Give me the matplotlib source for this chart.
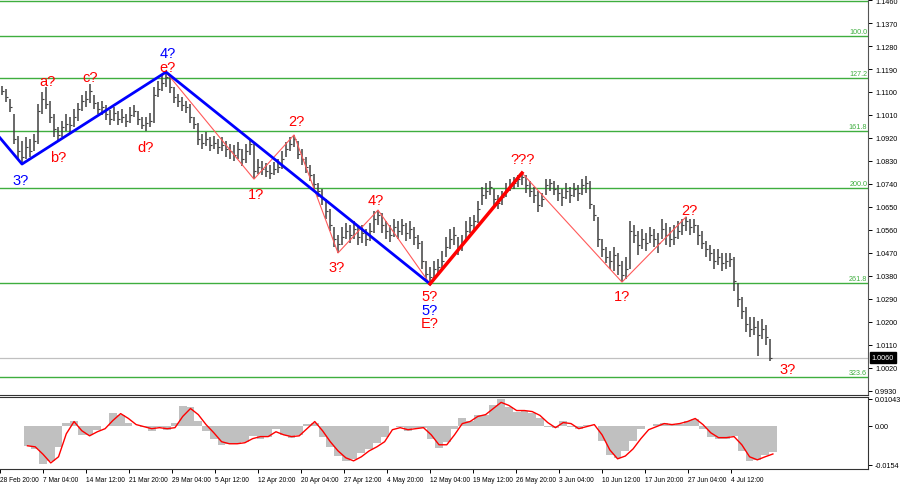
import numpy as np
import matplotlib
matplotlib.use("Agg")
import matplotlib.pyplot as plt
from matplotlib.collections import LineCollection

plt.rcParams["font.family"] = ["Liberation Sans", "DejaVu Sans"]

# EURUSD H4, one bar every ~3 original bars
closes = [1.1104, 1.1080, 1.1041, 1.0916, 1.0869, 1.0846, 1.0885, 1.0869, 1.0908, 1.1026,
          1.1073, 1.1053, 1.1002, 1.0955, 1.0932, 1.0963, 1.0975, 1.0971, 1.1002, 1.1033,
          1.1065, 1.1073, 1.1104, 1.1057, 1.1033, 1.1041, 1.1014, 1.0994, 1.1018, 1.0994,
          1.1002, 1.0986, 1.1010, 1.1026, 1.0994, 1.0971, 1.0979, 1.0986, 1.1088, 1.1112,
          1.1135, 1.1159, 1.1120, 1.1080, 1.1065, 1.1049, 1.1041, 1.1002, 1.0975, 1.0916,
          1.0900, 1.0916, 1.0893, 1.0900, 1.0885, 1.0893, 1.0877, 1.0869, 1.0853, 1.0877,
          1.0838, 1.0869, 1.0896, 1.0791, 1.0806, 1.0799, 1.0791, 1.0783, 1.0799, 1.0806,
          1.0838, 1.0877, 1.0896, 1.0916, 1.0857, 1.0838, 1.0806, 1.0775, 1.0740, 1.0713,
          1.0681, 1.0634, 1.0579, 1.0525, 1.0505, 1.0532, 1.0556, 1.0540, 1.0564, 1.0532,
          1.0548, 1.0525, 1.0556, 1.0603, 1.0619, 1.0579, 1.0556, 1.0540, 1.0572, 1.0556,
          1.0579, 1.0548, 1.0564, 1.0532, 1.0509, 1.0439, 1.0388, 1.0376, 1.0407, 1.0415,
          1.0439, 1.0493, 1.0525, 1.0540, 1.0493, 1.0509, 1.0556, 1.0579, 1.0595, 1.0642,
          1.0697, 1.0713, 1.0728, 1.0681, 1.0666, 1.0689, 1.0720, 1.0736, 1.0744, 1.0759,
          1.0767, 1.0736, 1.0713, 1.0697, 1.0658, 1.0681, 1.0736, 1.0744, 1.0720, 1.0705,
          1.0689, 1.0713, 1.0697, 1.0720, 1.0705, 1.0736, 1.0744, 1.0662, 1.0619, 1.0525,
          1.0485, 1.0454, 1.0439, 1.0462, 1.0423, 1.0384, 1.0407, 1.0556, 1.0540, 1.0501,
          1.0525, 1.0509, 1.0540, 1.0525, 1.0509, 1.0564, 1.0540, 1.0525, 1.0532, 1.0556,
          1.0579, 1.0595, 1.0572, 1.0579, 1.0540, 1.0509, 1.0485, 1.0470, 1.0439, 1.0454,
          1.0431, 1.0439, 1.0446, 1.0360, 1.0290, 1.0243, 1.0192, 1.0172, 1.0180, 1.0149,
          1.0172, 1.0141, 1.0060]

highs = [1.1123, 1.1112, 1.1073, 1.1014, 1.0928, 1.0908, 1.0924, 1.0916, 1.0936, 1.1053,
         1.1100, 1.1120, 1.1065, 1.1014, 1.0963, 1.0986, 1.1014, 1.1002, 1.1033, 1.1057,
         1.1088, 1.1104, 1.1131, 1.1088, 1.1061, 1.1065, 1.1049, 1.1030, 1.1041, 1.1026,
         1.1033, 1.1014, 1.1041, 1.1049, 1.1026, 1.1002, 1.1002, 1.1018, 1.1120, 1.1143,
         1.1167, 1.1178, 1.1167, 1.1120, 1.1092, 1.1080, 1.1065, 1.1053, 1.1002, 1.0979,
         1.0936, 1.0943, 1.0924, 1.0928, 1.0916, 1.0924, 1.0908, 1.0896, 1.0893, 1.0904,
         1.0877, 1.0896, 1.0916, 1.0896, 1.0838, 1.0830, 1.0822, 1.0814, 1.0826, 1.0838,
         1.0869, 1.0904, 1.0924, 1.0932, 1.0908, 1.0877, 1.0846, 1.0814, 1.0779, 1.0744,
         1.0720, 1.0681, 1.0642, 1.0572, 1.0540, 1.0572, 1.0587, 1.0579, 1.0595, 1.0572,
         1.0579, 1.0564, 1.0587, 1.0634, 1.0638, 1.0626, 1.0595, 1.0579, 1.0603, 1.0595,
         1.0603, 1.0587, 1.0595, 1.0572, 1.0540, 1.0517, 1.0439, 1.0415, 1.0439, 1.0446,
         1.0478, 1.0532, 1.0564, 1.0572, 1.0532, 1.0540, 1.0595, 1.0611, 1.0619, 1.0673,
         1.0728, 1.0744, 1.0752, 1.0720, 1.0697, 1.0713, 1.0744, 1.0759, 1.0767, 1.0775,
         1.0783, 1.0775, 1.0752, 1.0728, 1.0713, 1.0705, 1.0759, 1.0759, 1.0752, 1.0736,
         1.0720, 1.0744, 1.0728, 1.0744, 1.0736, 1.0759, 1.0771, 1.0752, 1.0658, 1.0611,
         1.0525, 1.0493, 1.0478, 1.0493, 1.0470, 1.0439, 1.0454, 1.0595, 1.0579, 1.0556,
         1.0564, 1.0548, 1.0572, 1.0564, 1.0548, 1.0603, 1.0587, 1.0572, 1.0579, 1.0595,
         1.0603, 1.0611, 1.0603, 1.0603, 1.0579, 1.0556, 1.0517, 1.0501, 1.0485, 1.0485,
         1.0470, 1.0470, 1.0470, 1.0454, 1.0352, 1.0298, 1.0258, 1.0219, 1.0219, 1.0204,
         1.0212, 1.0188, 1.0133]

lows = [1.1088, 1.1061, 1.1022, 1.0896, 1.0838, 1.0818, 1.0838, 1.0846, 1.0869, 1.0896,
        1.1014, 1.1033, 1.0979, 1.0924, 1.0908, 1.0924, 1.0947, 1.0940, 1.0963, 1.0986,
        1.1026, 1.1041, 1.1057, 1.1033, 1.1014, 1.1010, 1.0990, 1.0971, 1.0986, 1.0971,
        1.0979, 1.0963, 1.0979, 1.1002, 1.0971, 1.0955, 1.0947, 1.0963, 1.0979, 1.1080,
        1.1104, 1.1120, 1.1096, 1.1057, 1.1041, 1.1026, 1.1018, 1.0979, 1.0955, 1.0893,
        1.0877, 1.0889, 1.0869, 1.0877, 1.0857, 1.0869, 1.0846, 1.0838, 1.0830, 1.0838,
        1.0810, 1.0822, 1.0853, 1.0759, 1.0779, 1.0775, 1.0767, 1.0759, 1.0775, 1.0783,
        1.0799, 1.0846, 1.0869, 1.0885, 1.0838, 1.0814, 1.0783, 1.0752, 1.0713, 1.0689,
        1.0658, 1.0603, 1.0556, 1.0493, 1.0470, 1.0501, 1.0525, 1.0509, 1.0525, 1.0501,
        1.0509, 1.0497, 1.0517, 1.0548, 1.0579, 1.0548, 1.0525, 1.0513, 1.0532, 1.0525,
        1.0540, 1.0517, 1.0525, 1.0501, 1.0485, 1.0407, 1.0360, 1.0349, 1.0368, 1.0384,
        1.0407, 1.0454, 1.0485, 1.0501, 1.0462, 1.0478, 1.0525, 1.0548, 1.0564, 1.0587,
        1.0658, 1.0681, 1.0697, 1.0658, 1.0642, 1.0658, 1.0689, 1.0713, 1.0720, 1.0728,
        1.0736, 1.0705, 1.0689, 1.0666, 1.0630, 1.0650, 1.0697, 1.0713, 1.0697, 1.0673,
        1.0654, 1.0681, 1.0666, 1.0689, 1.0673, 1.0697, 1.0705, 1.0642, 1.0595, 1.0493,
        1.0454, 1.0431, 1.0407, 1.0399, 1.0384, 1.0356, 1.0368, 1.0407, 1.0509, 1.0462,
        1.0485, 1.0478, 1.0509, 1.0493, 1.0470, 1.0525, 1.0501, 1.0493, 1.0501, 1.0525,
        1.0540, 1.0556, 1.0540, 1.0548, 1.0501, 1.0485, 1.0454, 1.0439, 1.0407, 1.0423,
        1.0399, 1.0407, 1.0415, 1.0321, 1.0258, 1.0212, 1.0161, 1.0141, 1.0149, 1.0067,
        1.0133, 1.0110, 1.0047]

last_price = 1.0060

# fibo levels
fib_names = ["76.4", "100.0", "127.2", "161.8", "200.0", "261.8", "323.6"]
fib_prices = [1.1456, 1.1319, 1.1155, 1.0947, 1.0724, 1.0352, 0.9985]

# wave markup (bar index, price)
blue_idx = [-3, 5, 41, 107]
blue_px = [1.0967, 1.0818, 1.1178, 1.0349]
thick_red_idx = [107, 130]
thick_red_px = [1.0349, 1.0783]
thin_a_idx = [41, 63, 73, 84, 94, 107]
thin_a_px = [1.1178, 1.0759, 1.0932, 1.0470, 1.0638, 1.0349]
thin_b_idx = [130, 155, 171]
thin_b_px = [1.0783, 1.0356, 1.0611]

wave_text = ["3?", "a?", "b?", "c?", "d?", "4?", "e?", "1?", "2?", "3?", "4?",
             "???", "5?", "5?", "E?", "1?", "2?", "3?"]
wave_x = [4.75, 11.25, 14, 22, 36, 41.5, 41.5, 63.5, 73.5, 83.75, 93.5,
          130.25, 107, 107, 107, 155, 171.75, 196.5]
wave_y = [1.0756, 1.1143, 1.0846, 1.1159, 1.0885, 1.1253, 1.1196, 1.0701, 1.0986,
          1.0415, 1.0677, 1.0838, 1.0302, 1.0247, 1.0196, 1.0302, 1.0638, 1.0016]
wave_col = ["blue", "red", "red", "red", "red", "blue", "red", "red", "red", "red", "red",
            "red", "red", "blue", "red", "red", "red", "red"]

# MACD, every second bar
macd_main = [-0.0079, -0.0091, -0.0150, -0.0140, -0.0083, 0.0012, 0.0020, -0.0036, -0.0036, -0.0016,
             0.0000, 0.0051, 0.0043, 0.0012, 0.0000, -0.0004, -0.0020, -0.0004, -0.0016, 0.0012,
             0.0075, 0.0071, 0.0020, -0.0020, -0.0051, -0.0075, -0.0071, -0.0071, -0.0063, -0.0040,
             -0.0051, -0.0043, -0.0012, -0.0036, -0.0047, -0.0036, 0.0008, 0.0012, -0.0043, -0.0083,
             -0.0119, -0.0138, -0.0130, -0.0107, -0.0091, -0.0067, -0.0043, 0.0000, -0.0004, -0.0020,
             -0.0008, -0.0008, -0.0051, -0.0087, -0.0063, -0.0012, 0.0028, 0.0020, 0.0043, 0.0043,
             0.0079, 0.0104, 0.0071, 0.0055, 0.0059, 0.0051, 0.0028, -0.0004, -0.0008, 0.0020,
             -0.0004, -0.0012, 0.0004, 0.0000, -0.0059, -0.0115, -0.0126, -0.0099, -0.0059, -0.0012,
             0.0000, 0.0008, 0.0012, 0.0004, 0.0008, 0.0020, 0.0024, -0.0012, -0.0043, -0.0051,
             -0.0051, -0.0040, -0.0099, -0.0138, -0.0134, -0.0115, -0.0103]
macd_signal = [-0.0079, -0.0083, -0.0112, -0.0146, -0.0122, -0.0032, 0.0016, -0.0020, -0.0040, -0.0024,
               -0.0012, 0.0020, 0.0047, 0.0028, 0.0004, -0.0004, -0.0012, -0.0008, -0.0012, -0.0008,
               0.0036, 0.0067, 0.0043, 0.0004, -0.0028, -0.0063, -0.0071, -0.0071, -0.0067, -0.0051,
               -0.0043, -0.0043, -0.0024, -0.0036, -0.0043, -0.0040, -0.0012, 0.0016, -0.0020, -0.0063,
               -0.0099, -0.0126, -0.0138, -0.0122, -0.0099, -0.0083, -0.0063, -0.0016, -0.0008, -0.0016,
               -0.0012, -0.0008, -0.0036, -0.0075, -0.0075, -0.0036, 0.0008, 0.0016, 0.0036, 0.0043,
               0.0067, 0.0091, 0.0079, 0.0059, 0.0059, 0.0055, 0.0040, 0.0012, -0.0008, 0.0012,
               0.0008, -0.0012, -0.0004, 0.0004, -0.0036, -0.0095, -0.0130, -0.0119, -0.0091, -0.0051,
               -0.0016, -0.0004, 0.0008, 0.0004, 0.0008, 0.0016, 0.0028, 0.0004, -0.0028, -0.0047,
               -0.0047, -0.0043, -0.0075, -0.0122, -0.0134, -0.0122, -0.0111]

date_labels = ["28 Feb 20:00", "7 Mar 04:00", "14 Mar 12:00", "21 Mar 20:00", "29 Mar 04:00",
               "5 Apr 12:00", "12 Apr 20:00", "20 Apr 04:00", "27 Apr 12:00", "4 May 20:00",
               "12 May 04:00", "19 May 12:00", "26 May 20:00", "3 Jun 04:00", "10 Jun 12:00",
               "17 Jun 20:00", "27 Jun 04:00", "4 Jul 12:00"]

W, H = 900, 485
fig = plt.figure(figsize=(W / 100, H / 100), dpi=100)
ax = fig.add_axes([0, 1 - 396 / H, 868 / W, 396 / H])
mx = fig.add_axes([0, 1 - 470 / H, 868 / W, 72 / H])

x = np.arange(len(closes))
xlim = (-0.5, 216.5)
lbl_size = 5.2

# price bars
ax.vlines(x, lows, highs, color="#404040", lw=1.1)
ticks = [[(i, c), (i + 0.6, c)] for i, c in zip(x, closes)]
ax.add_collection(LineCollection(ticks, colors="#404040", lw=0.8))

# fibo lines
for name, p in zip(fib_names, fib_prices):
    ax.axhline(p, color="#3fae3f", lw=1.0, zorder=1)
    ax.text(216.3, p + 0.0003, name, color="#3fae3f", fontsize=lbl_size,
            ha="right", va="bottom", clip_on=True)

ax.axhline(last_price, color="#c0c0c0", lw=0.9, zorder=1)

# waves
ax.plot(thin_a_idx, thin_a_px, color="#ff5a5a", lw=0.8, zorder=3)
ax.plot(thin_b_idx, thin_b_px, color="#ff5a5a", lw=0.8, zorder=3)
ax.plot(blue_idx, blue_px, color="#0000ff", lw=2.0, zorder=4)
ax.plot(thick_red_idx, thick_red_px, color="#ff0000", lw=2.5, zorder=4)

for t, wx, wy, c in zip(wave_text, wave_x, wave_y, wave_col):
    ax.text(wx, wy, t, color="#0000ff" if c == "blue" else "#ff0000",
            fontsize=10.5, ha="center", va="center", zorder=5)

ax.set_xlim(*xlim)
ax.set_ylim(1.1464 - 396 * 0.0003914, 1.1464)
ax.set_xticks([])
ax.yaxis.tick_right()
yt = np.arange(0.9930, 1.1461, 0.009)
ax.set_yticks(yt)
ax.set_yticklabels(["%.4f" % v for v in yt])
ax.tick_params(axis="y", length=3, width=0.7, labelsize=lbl_size, pad=2)
for s in ["left", "top"]:
    ax.spines[s].set_visible(False)
ax.spines["right"].set_color("#555555")
ax.spines["bottom"].set_color("#333333")

# last price box
ax.text(1.004, last_price, "%.4f" % last_price, transform=ax.get_yaxis_transform(),
        color="white", fontsize=lbl_size, va="center", ha="left", clip_on=False,
        bbox=dict(boxstyle="square,pad=0.25", fc="black", ec="black"))

# MACD panel
mxx = np.arange(0, len(closes), 2)
mx.bar(mxx, macd_main, width=2.0, color="#c0c0c0", lw=0)
mx.plot(mxx, macd_signal, color="#ff0000", lw=1.0)
mx.set_xlim(*xlim)
mx.set_ylim(0.0112 - 72 / 2555, 0.0112)
mx.yaxis.tick_right()
mx.set_yticks([0.01043, 0.0, -0.0154])
mx.set_yticklabels(["0.01043", "0.00", "-0.0154"])
mx.tick_params(axis="y", length=3, width=0.7, labelsize=lbl_size, pad=2)
step = 44.3 / 4
mx.set_xticks([4 - step + k * step for k in range(len(date_labels))])
mx.set_xticklabels(date_labels)
for lbl in mx.get_xticklabels():
    lbl.set_ha("left")
mx.tick_params(axis="x", length=3, width=0.7, labelsize=4.8, pad=2)
mx.spines["left"].set_visible(False)
for s in ["top", "right", "bottom"]:
    mx.spines[s].set_color("#333333")

fig.savefig("out.png", dpi=100)
